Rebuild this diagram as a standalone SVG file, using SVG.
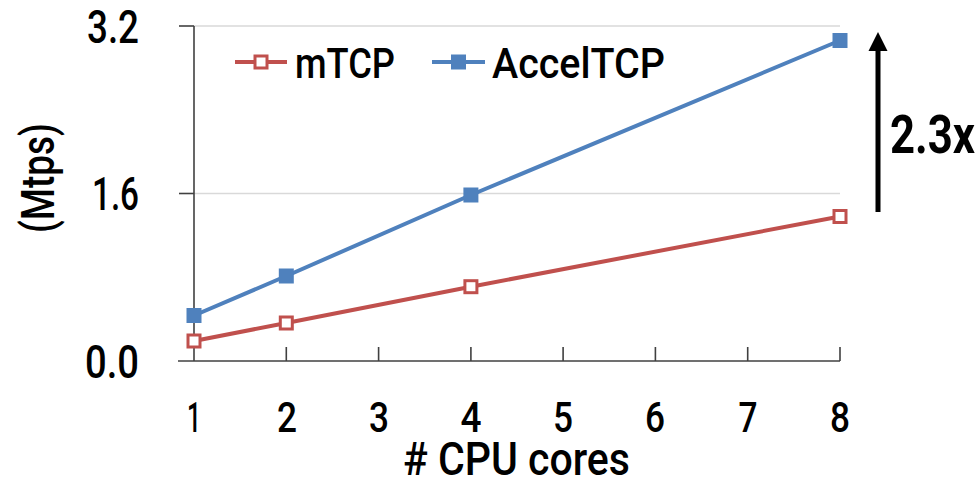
<svg xmlns="http://www.w3.org/2000/svg" width="978" height="482" viewBox="0 0 978 482">
  <style>
    text { font-family: Roboto, "Liberation Sans", sans-serif; font-weight: 500; fill: #000; }
    .tick { font-size: 42px; text-anchor: middle; }
    .ytick { font-size: 46px; text-anchor: end; }
    .strong { font-weight: 700; }
    .grid { stroke: #d9d9d9; stroke-width: 1.5; }
    .axis { stroke: #404040; stroke-width: 1.6; fill: none; }
    .red { stroke: #c0504d; stroke-width: 4; fill: none; }
    .blue { stroke: #4f81bd; stroke-width: 4; fill: none; }
  </style>
  <defs>
    <rect id="mt" x="-6" y="-6" width="12" height="12" fill="#fff" stroke="#c0504d" stroke-width="3"/>
    <rect id="ac" x="-7.5" y="-7.5" width="15" height="15" fill="#4f81bd"/>
  </defs>

  <rect width="978" height="482" fill="#fff"/>

  <!-- gridlines -->
  <g id="grid">
    <line class="grid" x1="194" y1="26" x2="840" y2="26"/>
    <line class="grid" x1="194" y1="193.5" x2="840" y2="193.5"/>
  </g>

  <!-- axes and ticks -->
  <g id="axes">
    <line class="axis" x1="194" y1="26" x2="194" y2="361" stroke="#000"/>
    <line class="axis" x1="178" y1="361" x2="840" y2="361"/>
    <line class="axis" x1="179" y1="26" x2="194" y2="26"/>
    <line class="axis" x1="179" y1="193.5" x2="194" y2="193.5"/>
    <path class="axis" d="M286.3 347V361M378.6 347V361M470.9 347V361M563.1 347V361M655.4 347V361M747.7 347V361M840 347V361"/>
  </g>

  <!-- y tick labels -->
  <g id="ylabels">
    <text class="ytick" x="139" y="43" textLength="52" lengthAdjust="spacingAndGlyphs">3.2</text>
    <text class="ytick" x="139" y="210" textLength="47" lengthAdjust="spacingAndGlyphs">1.6</text>
    <text class="ytick" x="139" y="378" textLength="54" lengthAdjust="spacingAndGlyphs">0.0</text>
  </g>

  <!-- x tick labels -->
  <g id="xlabels">
    <text class="tick" x="194" y="432" textLength="14" lengthAdjust="spacingAndGlyphs">1</text>
    <text class="tick" x="287" y="432" textLength="20" lengthAdjust="spacingAndGlyphs">2</text>
    <text class="tick" x="379" y="432" textLength="20" lengthAdjust="spacingAndGlyphs">3</text>
    <text class="tick" x="471" y="432" textLength="21" lengthAdjust="spacingAndGlyphs">4</text>
    <text class="tick" x="563" y="432" textLength="20" lengthAdjust="spacingAndGlyphs">5</text>
    <text class="tick" x="655" y="432" textLength="20" lengthAdjust="spacingAndGlyphs">6</text>
    <text class="tick" x="748" y="432" textLength="19" lengthAdjust="spacingAndGlyphs">7</text>
    <text class="tick" x="840" y="432" textLength="20" lengthAdjust="spacingAndGlyphs">8</text>
  </g>

  <!-- axis titles -->
  <text id="xtitle" x="403" y="475" font-size="46" textLength="227" lengthAdjust="spacingAndGlyphs">#  CPU cores</text>
  <text id="ytitle" transform="translate(54 233) rotate(-90)" font-size="46" textLength="110" lengthAdjust="spacingAndGlyphs">(Mtps)</text>

  <!-- data series -->
  <g id="series">
    <g id="mtcp">
      <polyline class="red" points="194,341 286.3,323 470.9,286.7 840,216.5"/>
      <use href="#mt" x="194" y="341"/>
      <use href="#mt" x="286.3" y="323"/>
      <use href="#mt" x="470.9" y="286.7"/>
      <use href="#mt" x="840" y="216.5"/>
    </g>
    <g id="acceltcp">
      <polyline class="blue" points="194,315.5 286.3,276 470.9,195 840,40.5"/>
      <use href="#ac" x="194" y="315.5"/>
      <use href="#ac" x="286.3" y="276"/>
      <use href="#ac" x="470.9" y="195"/>
      <use href="#ac" x="840" y="40.5"/>
    </g>
  </g>

  <!-- legend -->
  <g id="legend">
    <line class="red" x1="235" y1="62" x2="287" y2="62" stroke-width="3.5"/>
    <use href="#mt" x="261" y="62"/>
    <text x="295" y="78" font-size="42" textLength="100" lengthAdjust="spacingAndGlyphs">mTCP</text>
    <line class="blue" x1="432" y1="62" x2="485" y2="62" stroke-width="3.5"/>
    <use href="#ac" x="458.5" y="62"/>
    <text x="492" y="78" font-size="42" textLength="173" lengthAdjust="spacingAndGlyphs">AccelTCP</text>
  </g>

  <!-- speedup annotation -->
  <g id="speedup">
    <line x1="878" y1="212" x2="878" y2="48" stroke="#000" stroke-width="5"/>
    <polygon points="878,32 868.5,51 887.5,51" fill="#000"/>
    <text class="strong" x="890" y="153" font-size="53" textLength="85" lengthAdjust="spacingAndGlyphs">2.3x</text>
  </g>
</svg>
